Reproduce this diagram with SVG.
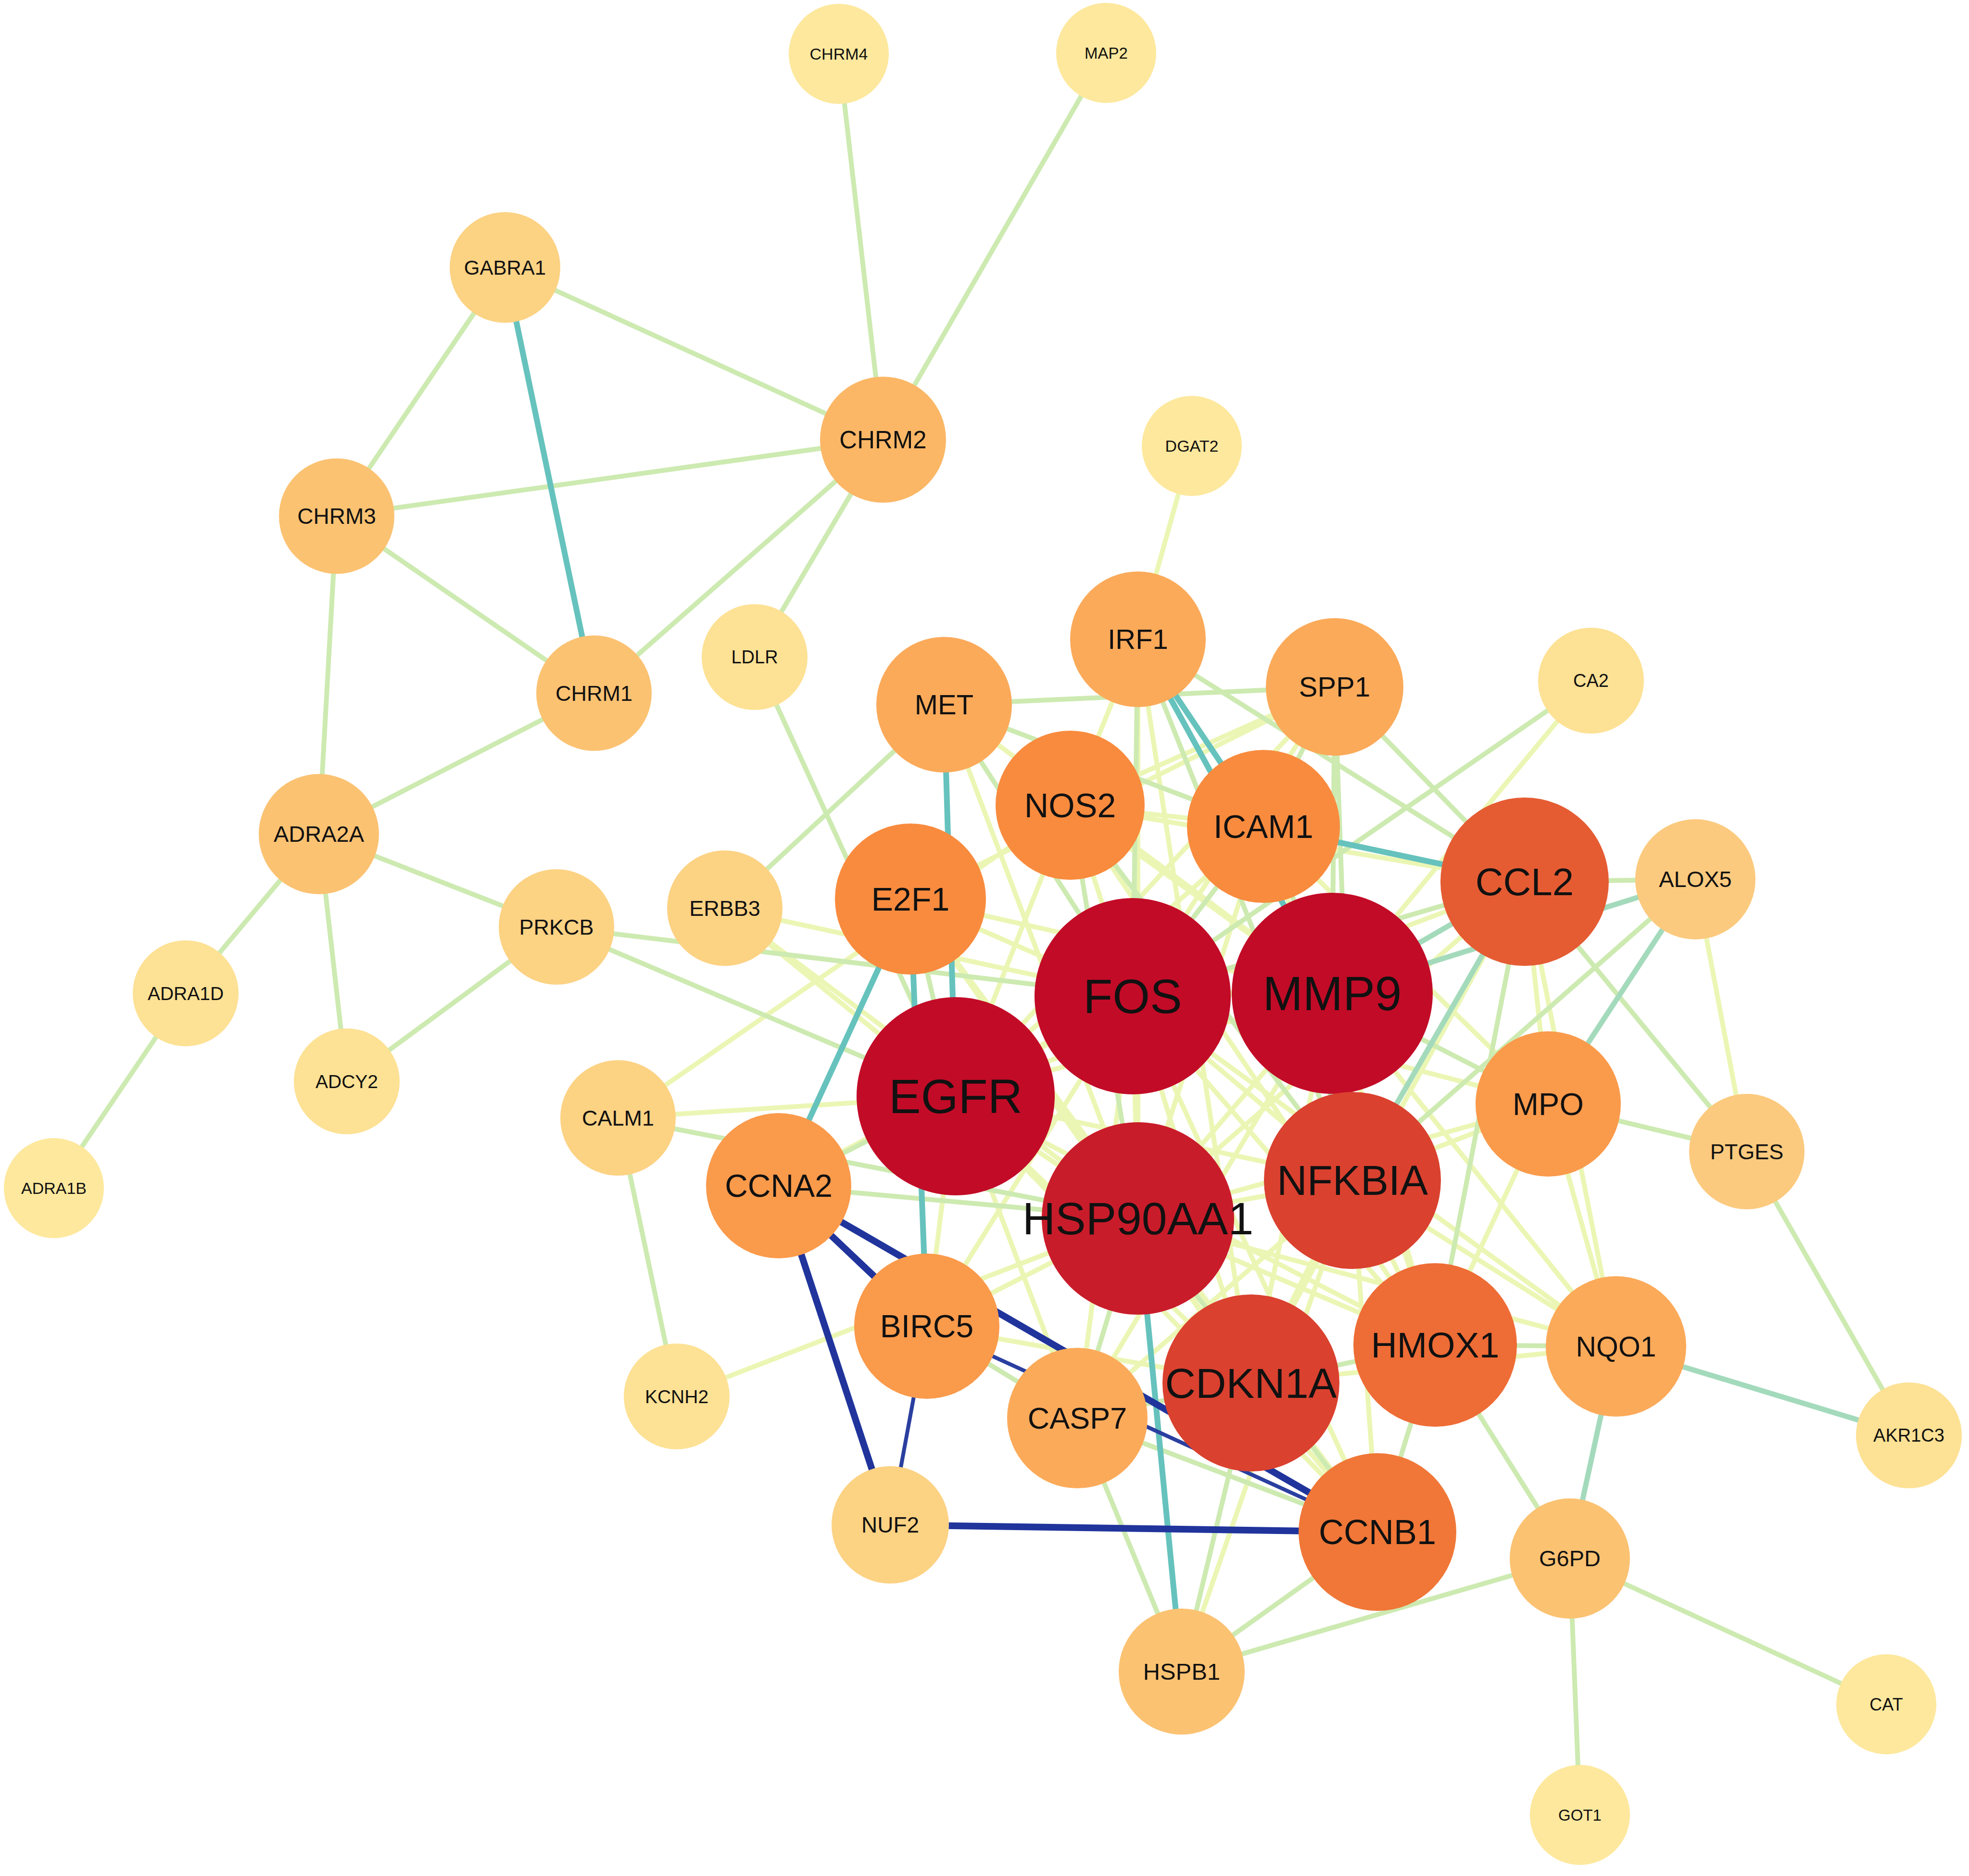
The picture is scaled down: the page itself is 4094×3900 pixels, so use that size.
<svg xmlns="http://www.w3.org/2000/svg" width="4094" height="3900" viewBox="0 0 4094 3900">
<style>
text{font-family:"Liberation Sans",Arial,sans-serif;fill:#111;text-anchor:middle}
line{stroke-linecap:butt}
.e1{stroke:#ebf6b4;stroke-width:10}
.e2{stroke:#cdeab1;stroke-width:10}
.e3{stroke:#a4dabc;stroke-width:11}
.e4{stroke:#66c2bd;stroke-width:12}
.eb{stroke:#20349c;stroke-width:14}
.et{stroke:#2a3f9f;stroke-width:8}
.c1{fill:#c20b27}.c2{fill:#c91c2a}.c3{fill:#da412f}.c4{fill:#e55c33}.c5{fill:#ee6c35}.c6{fill:#f07737}
.c7{fill:#f98b3e}.c8{fill:#fa9a4b}.c9{fill:#fbaa5a}.c10{fill:#fbb766}.c11{fill:#fbc272}.c12{fill:#fcca7e}
.c13{fill:#fcd283}.c14{fill:#fde194}.c15{fill:#fde89d}
</style>
<rect width="4094" height="3900" fill="#ffffff"/>
<g id="connectors">
<g class="e1">
<line class="e1" x1="1507" y1="1888" x2="1987" y2="2279"/>
<line class="e1" x1="1507" y1="1888" x2="2366" y2="2533"/>
<line class="e1" x1="1507" y1="1888" x2="2355" y2="2071"/>
<line class="e1" x1="1285" y1="2324" x2="2225" y2="1674"/>
<line class="e1" x1="1285" y1="2324" x2="1987" y2="2279"/>
<line class="e1" x1="1407" y1="2903" x2="2366" y2="2533"/>
<line class="e1" x1="2478" y1="927" x2="2366" y2="1329"/>
<line class="e1" x1="3308" y1="1415" x2="2770" y2="2065"/>
<line class="e1" x1="3525" y1="1828" x2="3632" y2="2394"/>
<line class="e1" x1="2355" y1="2071" x2="2770" y2="2065"/>
<line class="e1" x1="2355" y1="2071" x2="1987" y2="2279"/>
<line class="e1" x1="2355" y1="2071" x2="2366" y2="2533"/>
<line class="e1" x1="2355" y1="2071" x2="2812" y2="2454"/>
<line class="e1" x1="2355" y1="2071" x2="2601" y2="2875"/>
<line class="e1" x1="2355" y1="2071" x2="2984" y2="2796"/>
<line class="e1" x1="2355" y1="2071" x2="2864" y2="3185"/>
<line class="e1" x1="2355" y1="2071" x2="2225" y2="1674"/>
<line class="e1" x1="2355" y1="2071" x2="1893" y2="1869"/>
<line class="e1" x1="2355" y1="2071" x2="2775" y2="1428"/>
<line class="e1" x1="2355" y1="2071" x2="3219" y2="2295"/>
<line class="e1" x1="2355" y1="2071" x2="3360" y2="2799"/>
<line class="e1" x1="2355" y1="2071" x2="2240" y2="2948"/>
<line class="e1" x1="2355" y1="2071" x2="1619" y2="2465"/>
<line class="e1" x1="2355" y1="2071" x2="1927" y2="2757"/>
<line class="e1" x1="2770" y1="2065" x2="1987" y2="2279"/>
<line class="e1" x1="2770" y1="2065" x2="2366" y2="2533"/>
<line class="e1" x1="2770" y1="2065" x2="2812" y2="2454"/>
<line class="e1" x1="2770" y1="2065" x2="2601" y2="2875"/>
<line class="e1" x1="2770" y1="2065" x2="2984" y2="2796"/>
<line class="e1" x1="2770" y1="2065" x2="2225" y2="1674"/>
<line class="e1" x1="2770" y1="2065" x2="2240" y2="2948"/>
<line class="e1" x1="2770" y1="2065" x2="1963" y2="1465"/>
<line class="e1" x1="2770" y1="2065" x2="3360" y2="2799"/>
<line class="e1" x1="2770" y1="2065" x2="1893" y2="1869"/>
<line class="e1" x1="1987" y1="2279" x2="2366" y2="2533"/>
<line class="e1" x1="1987" y1="2279" x2="2812" y2="2454"/>
<line class="e1" x1="1987" y1="2279" x2="2601" y2="2875"/>
<line class="e1" x1="1987" y1="2279" x2="3170" y2="1833"/>
<line class="e1" x1="1987" y1="2279" x2="2984" y2="2796"/>
<line class="e1" x1="1987" y1="2279" x2="2864" y2="3185"/>
<line class="e1" x1="1987" y1="2279" x2="2627" y2="1718"/>
<line class="e1" x1="1987" y1="2279" x2="1927" y2="2757"/>
<line class="e1" x1="1987" y1="2279" x2="2240" y2="2948"/>
<line class="e1" x1="1987" y1="2279" x2="2225" y2="1674"/>
<line class="e1" x1="1987" y1="2279" x2="2775" y2="1428"/>
<line class="e1" x1="2366" y1="2533" x2="2812" y2="2454"/>
<line class="e1" x1="2366" y1="2533" x2="2601" y2="2875"/>
<line class="e1" x1="2366" y1="2533" x2="3170" y2="1833"/>
<line class="e1" x1="2366" y1="2533" x2="2984" y2="2796"/>
<line class="e1" x1="2366" y1="2533" x2="2627" y2="1718"/>
<line class="e1" x1="2366" y1="2533" x2="1893" y2="1869"/>
<line class="e1" x1="2366" y1="2533" x2="1927" y2="2757"/>
<line class="e1" x1="2366" y1="2533" x2="1963" y2="1465"/>
<line class="e1" x1="2366" y1="2533" x2="2366" y2="1329"/>
<line class="e1" x1="2366" y1="2533" x2="3360" y2="2799"/>
<line class="e1" x1="2366" y1="2533" x2="3219" y2="2295"/>
<line class="e1" x1="2812" y1="2454" x2="2601" y2="2875"/>
<line class="e1" x1="2812" y1="2454" x2="2984" y2="2796"/>
<line class="e1" x1="2812" y1="2454" x2="3219" y2="2295"/>
<line class="e1" x1="2812" y1="2454" x2="3360" y2="2799"/>
<line class="e1" x1="2812" y1="2454" x2="2864" y2="3185"/>
<line class="e1" x1="2601" y1="2875" x2="1893" y2="1869"/>
<line class="e1" x1="2601" y1="2875" x2="1927" y2="2757"/>
<line class="e1" x1="2601" y1="2875" x2="3360" y2="2799"/>
<line class="e1" x1="2601" y1="2875" x2="2864" y2="3185"/>
<line class="e1" x1="2601" y1="2875" x2="2366" y2="1329"/>
<line class="e1" x1="2601" y1="2875" x2="3170" y2="1833"/>
<line class="e1" x1="3170" y1="1833" x2="3219" y2="2295"/>
<line class="e1" x1="3170" y1="1833" x2="3360" y2="2799"/>
<line class="e1" x1="2984" y1="2796" x2="3219" y2="2295"/>
<line class="e1" x1="2984" y1="2796" x2="2627" y2="1718"/>
<line class="e1" x1="2984" y1="2796" x2="2225" y2="1674"/>
<line class="e1" x1="2864" y1="3185" x2="1893" y2="1869"/>
<line class="e1" x1="2457" y1="3475" x2="2812" y2="2454"/>
<line class="e1" x1="2240" y1="2948" x2="2812" y2="2454"/>
<line class="e1" x1="2225" y1="1674" x2="2627" y2="1718"/>
<line class="e1" x1="2225" y1="1674" x2="2366" y2="1329"/>
<line class="e1" x1="2225" y1="1674" x2="3170" y2="1833"/>
<line class="e1" x1="2225" y1="1674" x2="2775" y2="1428"/>
<line class="e1" x1="2627" y1="1718" x2="3219" y2="2295"/>
<line class="e1" x1="3219" y1="2295" x2="3360" y2="2799"/>
<line class="e1" x1="1893" y1="1869" x2="2775" y2="1428"/>
</g>
<g class="e2">
<line class="e2" x1="1744" y1="112" x2="1836" y2="914"/>
<line class="e2" x1="2300" y1="110" x2="1836" y2="914"/>
<line class="e2" x1="1050" y1="556" x2="1836" y2="914"/>
<line class="e2" x1="1050" y1="556" x2="700" y2="1073"/>
<line class="e2" x1="1836" y1="914" x2="700" y2="1073"/>
<line class="e2" x1="1836" y1="914" x2="1235" y2="1441"/>
<line class="e2" x1="1836" y1="914" x2="1569" y2="1366"/>
<line class="e2" x1="700" y1="1073" x2="1235" y2="1441"/>
<line class="e2" x1="700" y1="1073" x2="663" y2="1734"/>
<line class="e2" x1="1235" y1="1441" x2="663" y2="1734"/>
<line class="e2" x1="663" y1="1734" x2="386" y2="2065"/>
<line class="e2" x1="663" y1="1734" x2="721" y2="2248"/>
<line class="e2" x1="663" y1="1734" x2="1157" y2="1927"/>
<line class="e2" x1="1157" y1="1927" x2="721" y2="2248"/>
<line class="e2" x1="386" y1="2065" x2="112" y2="2470"/>
<line class="e2" x1="1157" y1="1927" x2="1987" y2="2279"/>
<line class="e2" x1="1157" y1="1927" x2="2355" y2="2071"/>
<line class="e2" x1="1569" y1="1366" x2="1987" y2="2279"/>
<line class="e2" x1="1507" y1="1888" x2="1963" y2="1465"/>
<line class="e2" x1="1285" y1="2324" x2="2366" y2="2533"/>
<line class="e2" x1="1285" y1="2324" x2="1407" y2="2903"/>
<line class="e2" x1="3308" y1="1415" x2="2355" y2="2071"/>
<line class="e2" x1="3525" y1="1828" x2="3170" y2="1833"/>
<line class="e2" x1="3525" y1="1828" x2="2812" y2="2454"/>
<line class="e2" x1="3170" y1="1833" x2="3632" y2="2394"/>
<line class="e2" x1="3219" y1="2295" x2="3632" y2="2394"/>
<line class="e2" x1="3632" y1="2394" x2="3969" y2="2984"/>
<line class="e2" x1="2984" y1="2796" x2="3264" y2="3240"/>
<line class="e2" x1="3264" y1="3240" x2="3922" y2="3543"/>
<line class="e2" x1="3264" y1="3240" x2="3285" y2="3773"/>
<line class="e2" x1="3264" y1="3240" x2="2457" y2="3475"/>
<line class="e2" x1="2984" y1="2796" x2="3360" y2="2799"/>
<line class="e2" x1="2864" y1="3185" x2="2457" y2="3475"/>
<line class="e2" x1="2864" y1="3185" x2="2240" y2="2948"/>
<line class="e2" x1="2457" y1="3475" x2="2240" y2="2948"/>
<line class="e2" x1="2457" y1="3475" x2="2601" y2="2875"/>
<line class="e2" x1="2240" y1="2948" x2="1927" y2="2757"/>
<line class="e2" x1="2355" y1="2071" x2="3170" y2="1833"/>
<line class="e2" x1="2355" y1="2071" x2="2627" y2="1718"/>
<line class="e2" x1="2355" y1="2071" x2="2366" y2="1329"/>
<line class="e2" x1="2355" y1="2071" x2="1963" y2="1465"/>
<line class="e2" x1="2770" y1="2065" x2="2627" y2="1718"/>
<line class="e2" x1="2770" y1="2065" x2="2775" y2="1428"/>
<line class="e2" x1="2770" y1="2065" x2="3219" y2="2295"/>
<line class="e2" x1="1987" y1="2279" x2="1893" y2="1869"/>
<line class="e2" x1="1987" y1="2279" x2="1619" y2="2465"/>
<line class="e2" x1="2366" y1="2533" x2="2864" y2="3185"/>
<line class="e2" x1="2366" y1="2533" x2="2225" y2="1674"/>
<line class="e2" x1="2366" y1="2533" x2="1619" y2="2465"/>
<line class="e2" x1="2366" y1="2533" x2="2240" y2="2948"/>
<line class="e2" x1="2812" y1="2454" x2="2225" y2="1674"/>
<line class="e2" x1="2812" y1="2454" x2="2366" y2="1329"/>
<line class="e2" x1="2812" y1="2454" x2="2775" y2="1428"/>
<line class="e2" x1="2601" y1="2875" x2="2240" y2="2948"/>
<line class="e2" x1="2601" y1="2875" x2="2984" y2="2796"/>
<line class="e2" x1="3170" y1="1833" x2="2775" y2="1428"/>
<line class="e2" x1="3170" y1="1833" x2="2366" y2="1329"/>
<line class="e2" x1="3170" y1="1833" x2="2984" y2="2796"/>
<line class="e2" x1="2984" y1="2796" x2="2864" y2="3185"/>
<line class="e2" x1="2627" y1="1718" x2="2775" y2="1428"/>
<line class="e2" x1="1963" y1="1465" x2="2775" y2="1428"/>
<line class="e2" x1="1963" y1="1465" x2="2627" y2="1718"/>
</g>
<g class="e3">
<line class="e3" x1="3525" y1="1828" x2="2770" y2="2065"/>
<line class="e3" x1="3525" y1="1828" x2="3219" y2="2295"/>
<line class="e3" x1="3360" y1="2799" x2="3969" y2="2984"/>
<line class="e3" x1="3360" y1="2799" x2="3264" y2="3240"/>
<line class="e3" x1="2770" y1="2065" x2="3170" y2="1833"/>
<line class="e3" x1="2812" y1="2454" x2="3170" y2="1833"/>
<line class="e3" x1="2812" y1="2454" x2="2627" y2="1718"/>
</g>
<g class="e4">
<line class="e4" x1="1050" y1="556" x2="1235" y2="1441"/>
<line class="e4" x1="1619" y1="2465" x2="1893" y2="1869"/>
<line class="e4" x1="1893" y1="1869" x2="1927" y2="2757"/>
<line class="e4" x1="1963" y1="1465" x2="1987" y2="2279"/>
<line class="e4" x1="2457" y1="3475" x2="2366" y2="2533"/>
<line class="e4" x1="2366" y1="1329" x2="2627" y2="1718"/>
<line class="e4" x1="2366" y1="1329" x2="2770" y2="2065"/>
<line class="e4" x1="2627" y1="1718" x2="3170" y2="1833"/>
</g>
<g class="eb">
<line class="eb" x1="1619" y1="2465" x2="1851" y2="3170"/>
<line class="eb" x1="1619" y1="2465" x2="2864" y2="3185"/>
<line class="eb" x1="1619" y1="2465" x2="1927" y2="2757"/>
<line class="eb" x1="1851" y1="3170" x2="2864" y2="3185"/>
<line class="et" x1="1927" y1="2757" x2="2864" y2="3185"/>
<line class="et" x1="1927" y1="2757" x2="1851" y2="3170"/>
</g>
</g>
<g id="node-CHRM4"><circle class="c15" cx="1744" cy="112" r="104"/><text x="1744" y="112" dy="0.35em" font-size="34">CHRM4</text></g>
<g id="node-MAP2"><circle class="c15" cx="2300" cy="110" r="104"/><text x="2300" y="110" dy="0.35em" font-size="33">MAP2</text></g>
<g id="node-GABRA1"><circle class="c13" cx="1050" cy="556" r="115"/><text x="1050" y="556" dy="0.35em" font-size="42">GABRA1</text></g>
<g id="node-CHRM2"><circle class="c10" cx="1836" cy="914" r="131"/><text x="1836" y="914" dy="0.35em" font-size="51">CHRM2</text></g>
<g id="node-DGAT2"><circle class="c15" cx="2478" cy="927" r="104"/><text x="2478" y="927" dy="0.35em" font-size="34">DGAT2</text></g>
<g id="node-CHRM3"><circle class="c11" cx="700" cy="1073" r="120"/><text x="700" y="1073" dy="0.35em" font-size="46">CHRM3</text></g>
<g id="node-LDLR"><circle class="c14" cx="1569" cy="1366" r="110"/><text x="1569" y="1366" dy="0.35em" font-size="38">LDLR</text></g>
<g id="node-CHRM1"><circle class="c11" cx="1235" cy="1441" r="120"/><text x="1235" y="1441" dy="0.35em" font-size="45">CHRM1</text></g>
<g id="node-IRF1"><circle class="c9" cx="2366" cy="1329" r="141"/><text x="2366" y="1329" dy="0.35em" font-size="58">IRF1</text></g>
<g id="node-SPP1"><circle class="c9" cx="2775" cy="1428" r="143"/><text x="2775" y="1428" dy="0.35em" font-size="58">SPP1</text></g>
<g id="node-CA2"><circle class="c14" cx="3308" cy="1415" r="110"/><text x="3308" y="1415" dy="0.35em" font-size="38">CA2</text></g>
<g id="node-MET"><circle class="c9" cx="1963" cy="1465" r="141"/><text x="1963" y="1465" dy="0.35em" font-size="58">MET</text></g>
<g id="node-NOS2"><circle class="c7" cx="2225" cy="1674" r="155"/><text x="2225" y="1674" dy="0.35em" font-size="70">NOS2</text></g>
<g id="node-ICAM1"><circle class="c7" cx="2627" cy="1718" r="159"/><text x="2627" y="1718" dy="0.35em" font-size="68">ICAM1</text></g>
<g id="node-CCL2"><circle class="c4" cx="3170" cy="1833" r="175"/><text x="3170" y="1833" dy="0.35em" font-size="80">CCL2</text></g>
<g id="node-ALOX5"><circle class="c12" cx="3525" cy="1828" r="125"/><text x="3525" y="1828" dy="0.35em" font-size="47">ALOX5</text></g>
<g id="node-ADRA2A"><circle class="c11" cx="663" cy="1734" r="125"/><text x="663" y="1734" dy="0.35em" font-size="47">ADRA2A</text></g>
<g id="node-PRKCB"><circle class="c13" cx="1157" cy="1927" r="120"/><text x="1157" y="1927" dy="0.35em" font-size="45">PRKCB</text></g>
<g id="node-ERBB3"><circle class="c13" cx="1507" cy="1888" r="120"/><text x="1507" y="1888" dy="0.35em" font-size="45">ERBB3</text></g>
<g id="node-E2F1"><circle class="c7" cx="1893" cy="1869" r="157"/><text x="1893" y="1869" dy="0.35em" font-size="68">E2F1</text></g>
<g id="node-FOS"><circle class="c1" cx="2355" cy="2071" r="204"/><text x="2355" y="2071" dy="0.35em" font-size="100">FOS</text></g>
<g id="node-MMP9"><circle class="c1" cx="2770" cy="2065" r="209"/><text x="2770" y="2065" dy="0.35em" font-size="100">MMP9</text></g>
<g id="node-ADRA1D"><circle class="c14" cx="386" cy="2065" r="110"/><text x="386" y="2065" dy="0.35em" font-size="39">ADRA1D</text></g>
<g id="node-ADCY2"><circle class="c14" cx="721" cy="2248" r="110"/><text x="721" y="2248" dy="0.35em" font-size="39">ADCY2</text></g>
<g id="node-EGFR"><circle class="c1" cx="1987" cy="2279" r="206"/><text x="1987" y="2279" dy="0.35em" font-size="100">EGFR</text></g>
<g id="node-MPO"><circle class="c8" cx="3219" cy="2295" r="151"/><text x="3219" y="2295" dy="0.35em" font-size="65">MPO</text></g>
<g id="node-PTGES"><circle class="c12" cx="3632" cy="2394" r="120"/><text x="3632" y="2394" dy="0.35em" font-size="45">PTGES</text></g>
<g id="node-CALM1"><circle class="c13" cx="1285" cy="2324" r="120"/><text x="1285" y="2324" dy="0.35em" font-size="45">CALM1</text></g>
<g id="node-CCNA2"><circle class="c8" cx="1619" cy="2465" r="151"/><text x="1619" y="2465" dy="0.35em" font-size="66">CCNA2</text></g>
<g id="node-NFKBIA"><circle class="c3" cx="2812" cy="2454" r="184"/><text x="2812" y="2454" dy="0.35em" font-size="87">NFKBIA</text></g>
<g id="node-HSP90AA1"><circle class="c2" cx="2366" cy="2533" r="200"/><text x="2366" y="2533" dy="0.35em" font-size="95">HSP90AA1</text></g>
<g id="node-ADRA1B"><circle class="c15" cx="112" cy="2470" r="104"/><text x="112" y="2470" dy="0.35em" font-size="34">ADRA1B</text></g>
<g id="node-BIRC5"><circle class="c8" cx="1927" cy="2757" r="151"/><text x="1927" y="2757" dy="0.35em" font-size="66">BIRC5</text></g>
<g id="node-KCNH2"><circle class="c14" cx="1407" cy="2903" r="110"/><text x="1407" y="2903" dy="0.35em" font-size="39">KCNH2</text></g>
<g id="node-CDKN1A"><circle class="c3" cx="2601" cy="2875" r="184"/><text x="2601" y="2875" dy="0.35em" font-size="88">CDKN1A</text></g>
<g id="node-HMOX1"><circle class="c5" cx="2984" cy="2796" r="170"/><text x="2984" y="2796" dy="0.35em" font-size="75">HMOX1</text></g>
<g id="node-NQO1"><circle class="c9" cx="3360" cy="2799" r="146"/><text x="3360" y="2799" dy="0.35em" font-size="59">NQO1</text></g>
<g id="node-CASP7"><circle class="c9" cx="2240" cy="2948" r="146"/><text x="2240" y="2948" dy="0.35em" font-size="63">CASP7</text></g>
<g id="node-AKR1C3"><circle class="c14" cx="3969" cy="2984" r="110"/><text x="3969" y="2984" dy="0.35em" font-size="38">AKR1C3</text></g>
<g id="node-NUF2"><circle class="c13" cx="1851" cy="3170" r="122"/><text x="1851" y="3170" dy="0.35em" font-size="46">NUF2</text></g>
<g id="node-CCNB1"><circle class="c6" cx="2864" cy="3185" r="164"/><text x="2864" y="3185" dy="0.35em" font-size="72">CCNB1</text></g>
<g id="node-G6PD"><circle class="c11" cx="3264" cy="3240" r="125"/><text x="3264" y="3240" dy="0.35em" font-size="47">G6PD</text></g>
<g id="node-HSPB1"><circle class="c11" cx="2457" cy="3475" r="131"/><text x="2457" y="3475" dy="0.35em" font-size="49">HSPB1</text></g>
<g id="node-CAT"><circle class="c15" cx="3922" cy="3543" r="104"/><text x="3922" y="3543" dy="0.35em" font-size="36">CAT</text></g>
<g id="node-GOT1"><circle class="c15" cx="3285" cy="3773" r="104"/><text x="3285" y="3773" dy="0.35em" font-size="33">GOT1</text></g>
</svg>
